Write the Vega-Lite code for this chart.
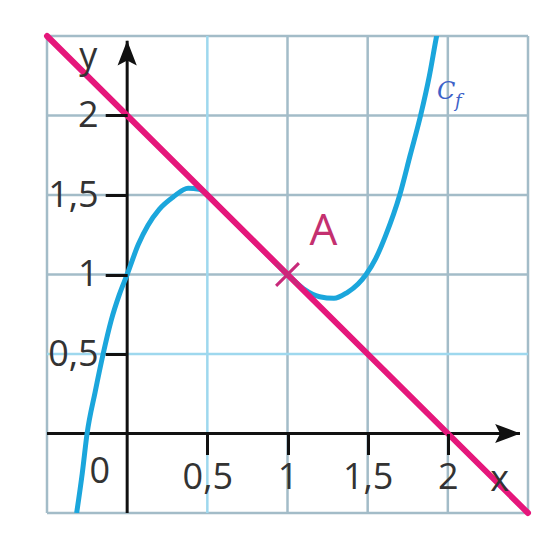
{
  "$schema": "https://vega.github.io/schema/vega-lite/v6.json",
  "width": 481,
  "height": 477,
  "autosize": {"type": "none"},
  "padding": {"left": 47, "top": 36, "right": 19, "bottom": 20},
  "background": "#ffffff",
  "config": {
    "view": {"stroke": null},
    "font": "Open Sans"
  },
  "datasets": {
    "gridGray": [{"v": -0.5}, {"v": 1}, {"v": 1.5}, {"v": 2}, {"v": 2.5}],
    "gridCyan": [{"v": 0.5}],
    "curve": [
      {"x": -0.315, "y": -0.5},
      {"x": -0.28, "y": -0.25},
      {"x": -0.25, "y": 0.0},
      {"x": -0.2, "y": 0.26},
      {"x": -0.15, "y": 0.5},
      {"x": -0.1, "y": 0.71},
      {"x": -0.05, "y": 0.87},
      {"x": 0.0, "y": 1.0},
      {"x": 0.07, "y": 1.19},
      {"x": 0.13, "y": 1.31},
      {"x": 0.2, "y": 1.41},
      {"x": 0.29, "y": 1.49},
      {"x": 0.38, "y": 1.543},
      {"x": 0.45, "y": 1.535},
      {"x": 0.5, "y": 1.5},
      {"x": 0.6, "y": 1.4},
      {"x": 0.7, "y": 1.3},
      {"x": 0.8, "y": 1.2},
      {"x": 0.9, "y": 1.1},
      {"x": 1.0, "y": 1.0},
      {"x": 1.1, "y": 0.91},
      {"x": 1.2, "y": 0.86},
      {"x": 1.29, "y": 0.85},
      {"x": 1.37, "y": 0.885},
      {"x": 1.44, "y": 0.94},
      {"x": 1.49, "y": 1.0},
      {"x": 1.55, "y": 1.1},
      {"x": 1.61, "y": 1.24},
      {"x": 1.7, "y": 1.5},
      {"x": 1.765, "y": 1.75},
      {"x": 1.83, "y": 2.0},
      {"x": 1.885, "y": 2.25},
      {"x": 1.93, "y": 2.5},
      {"x": 1.95, "y": 2.6}
    ],
    "tangent": [{"x": -0.5, "y": 2.5}, {"x": 2.5, "y": -0.5}]
  },
  "layer": [
    {
      "data": {"name": "tangent"},
      "mark": {"type": "line", "opacity": 0},
      "encoding": {
        "x": {"field": "x", "type": "quantitative", "title": null,
          "scale": {"domain": [-0.5, 2.5], "nice": false, "zero": false},
          "axis": {
            "orient": "bottom", "offset": -79.5, "values": [0.5, 1, 1.5, 2],
            "format": "~g",
            "domain": false, "grid": false, "zindex": 1,
            "tickColor": "#111111", "tickWidth": 3, "tickSize": 21,
            "labelFont": "Open Sans", "labelFontSize": 36, "labelColor": "#333333",
            "labelPadding": 6, "labelDx": -3, "labelFlush": false, "labelOverlap": false,
            "labelExpr": "replace(datum.label, '.', ',')"
          }},
        "y": {"field": "y", "type": "quantitative", "title": null,
          "scale": {"domain": [-0.5, 2.5], "nice": false, "zero": false},
          "axis": {
            "orient": "left", "offset": -80.2, "values": [0.5, 1, 1.5, 2],
            "format": "~g",
            "domain": false, "grid": false, "zindex": 1,
            "tickColor": "#111111", "tickWidth": 3, "tickSize": 22,
            "labelFont": "Open Sans", "labelFontSize": 36, "labelColor": "#333333",
            "labelPadding": 7, "labelFlush": false, "labelOverlap": false,
            "labelExpr": "replace(datum.label, '.', ',')"
          }}
      }
    },
    {
      "data": {"name": "gridGray"},
      "mark": {"type": "rule", "color": "#a3bcc8", "strokeWidth": 2.5},
      "encoding": {
        "x": {"field": "v", "type": "quantitative", "title": null}
      }
    },
    {
      "data": {"name": "gridGray"},
      "mark": {"type": "rule", "color": "#a3bcc8", "strokeWidth": 2.5},
      "encoding": {
        "y": {"field": "v", "type": "quantitative", "title": null}
      }
    },
    {
      "data": {"name": "gridCyan"},
      "mark": {"type": "rule", "color": "#9ed8ee", "strokeWidth": 2.5},
      "encoding": {
        "x": {"field": "v", "type": "quantitative", "title": null}
      }
    },
    {
      "data": {"name": "gridCyan"},
      "mark": {"type": "rule", "color": "#9ed8ee", "strokeWidth": 2.5},
      "encoding": {
        "y": {"field": "v", "type": "quantitative", "title": null}
      }
    },
    {
      "data": {"values": [
        {"x": -0.5, "x2": 2.45, "y": 0, "y2": 0},
        {"x": 0, "x2": 0, "y": -0.5, "y2": 2.47}
      ]},
      "mark": {"type": "rule", "color": "#111111", "strokeWidth": 3},
      "encoding": {
        "x": {"field": "x", "type": "quantitative", "title": null},
        "x2": {"field": "x2"},
        "y": {"field": "y", "type": "quantitative", "title": null},
        "y2": {"field": "y2"}
      }
    },
    {
      "data": {"values": [{"x": 0, "y": 2.375}]},
      "mark": {"type": "point", "shape": "M0,-1L0.62,0.62L0,0.3L-0.62,0.62Z", "filled": true, "color": "#111111", "opacity": 1, "size": 961},
      "encoding": {
        "x": {"field": "x", "type": "quantitative", "title": null},
        "y": {"field": "y", "type": "quantitative", "title": null}
      }
    },
    {
      "data": {"values": [{"x": 2.355, "y": 0}]},
      "mark": {"type": "point", "shape": "M1,0L-0.62,0.62L-0.3,0L-0.62,-0.62Z", "filled": true, "color": "#111111", "opacity": 1, "size": 961},
      "encoding": {
        "x": {"field": "x", "type": "quantitative", "title": null},
        "y": {"field": "y", "type": "quantitative", "title": null}
      }
    },
    {
      "data": {"name": "curve"},
      "mark": {"type": "line", "color": "#1ba6dc", "strokeWidth": 5, "interpolate": "monotone", "clip": true},
      "encoding": {
        "x": {"field": "x", "type": "quantitative", "title": null},
        "y": {"field": "y", "type": "quantitative", "title": null}
      }
    },
    {
      "data": {"name": "tangent"},
      "mark": {"type": "line", "color": "#e5177b", "strokeWidth": 6, "strokeCap": "round"},
      "encoding": {
        "x": {"field": "x", "type": "quantitative", "title": null},
        "y": {"field": "y", "type": "quantitative", "title": null}
      }
    },
    {
      "data": {"values": [{"x": 1, "y": 1}]},
      "mark": {"type": "point", "shape": "M-1,-1L1,1M-1,1L1,-1", "filled": false, "color": "#c8297a", "strokeWidth": 3, "opacity": 1, "size": 520},
      "encoding": {
        "x": {"field": "x", "type": "quantitative", "title": null},
        "y": {"field": "y", "type": "quantitative", "title": null}
      }
    },
    {
      "data": {"values": [{"label": "A", "x": 1.224, "y": 1.267}]},
      "mark": {"type": "text", "font": "Open Sans", "fontSize": 44, "color": "#c4306f", "baseline": "middle", "align": "center"},
      "encoding": {
        "x": {"field": "x", "type": "quantitative", "title": null},
        "y": {"field": "y", "type": "quantitative", "title": null},
        "text": {"field": "label"}
      }
    },
    {
      "data": {"values": [
        {"label": "0", "x": -0.17, "y": -0.245},
        {"label": "x", "x": 2.324, "y": -0.29},
        {"label": "y", "x": -0.243, "y": 2.365}
      ]},
      "mark": {"type": "text", "font": "Open Sans", "fontSize": 36, "color": "#333333", "baseline": "middle", "align": "center"},
      "encoding": {
        "x": {"field": "x", "type": "quantitative", "title": null},
        "y": {"field": "y", "type": "quantitative", "title": null},
        "text": {"field": "label"}
      }
    },
    {
      "data": {"values": [{"label": "C", "x": 1.99, "y": 2.15}]},
      "mark": {"type": "text", "font": "DejaVu Serif", "fontStyle": "italic", "fontSize": 24, "color": "#3d62c8", "baseline": "middle", "align": "center"},
      "encoding": {
        "x": {"field": "x", "type": "quantitative", "title": null},
        "y": {"field": "y", "type": "quantitative", "title": null},
        "text": {"field": "label"}
      }
    },
    {
      "data": {"values": [{"label": "f", "x": 2.065, "y": 2.085}]},
      "mark": {"type": "text", "font": "DejaVu Serif", "fontStyle": "italic", "fontSize": 18, "color": "#3d62c8", "baseline": "middle", "align": "center"},
      "encoding": {
        "x": {"field": "x", "type": "quantitative", "title": null},
        "y": {"field": "y", "type": "quantitative", "title": null},
        "text": {"field": "label"}
      }
    }
  ]
}
